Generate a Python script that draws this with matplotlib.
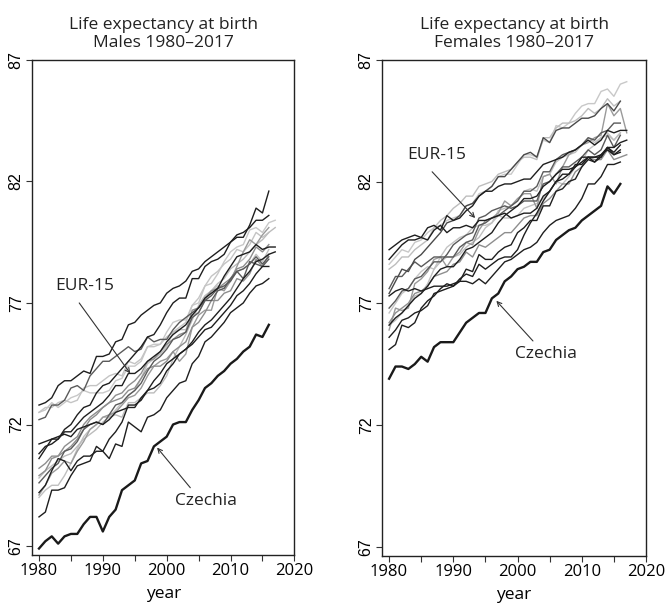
import matplotlib
matplotlib.use("Agg")
import matplotlib.pyplot as plt

plt.rcParams['font.family'] = ['Open Sans', 'DejaVu Sans']

START = 1980

# ---------------- Males ----------------
male_cz = [66.9, 67.2, 67.4, 67.1, 67.4, 67.5, 67.5, 67.9, 68.2, 68.2,
           67.6, 68.2, 68.5, 69.3, 69.5, 69.7, 70.4, 70.5, 71.1, 71.3,
           71.5, 72.0, 72.1, 72.1, 72.6, 73.0, 73.5, 73.7, 74.0, 74.2,
           74.5, 74.7, 75.0, 75.2, 75.7, 75.6, 76.1]

male_eur = {
    "Sweden": [72.8, 72.9, 73.1, 73.6, 73.8, 73.8, 74.0, 74.2, 74.1, 74.8,
               74.8, 74.9, 75.4, 75.5, 76.1, 76.2, 76.5, 76.7, 76.9, 77.0,
               77.4, 77.6, 77.7, 77.9, 78.3, 78.4, 78.7, 78.9, 79.1, 79.3,
               79.5, 79.8, 79.9, 80.1, 80.4, 80.4, 80.6],
    "Netherlands": [72.5, 72.7, 72.7, 72.9, 73.0, 72.9, 73.0, 73.5, 73.6, 73.6,
                    73.8, 74.0, 74.1, 74.0, 74.6, 74.5, 74.7, 75.2, 75.2, 75.3,
                    75.6, 75.8, 76.0, 76.2, 76.9, 77.2, 77.7, 78.1, 78.3, 78.6,
                    78.8, 79.2, 79.1, 79.4, 79.9, 79.7, 79.9],
    "Greece": [72.2, 72.3, 72.8, 72.8, 73.0, 73.5, 73.6, 73.4, 74.0, 74.3,
               74.6, 74.6, 74.8, 75.0, 75.2, 75.0, 75.1, 75.6, 75.4, 75.5,
               75.5, 75.9, 76.2, 76.4, 76.6, 76.8, 77.1, 77.1, 77.5, 77.6,
               78.0, 78.3, 78.0, 78.7, 78.6, 78.5, 78.8],
    "Spain": [72.5, 72.6, 72.9, 72.7, 72.9, 73.1, 73.2, 73.4, 73.3, 73.3,
              73.3, 73.4, 73.8, 73.9, 74.4, 74.4, 74.6, 75.2, 75.3, 75.3,
              75.8, 76.2, 76.3, 76.3, 76.9, 77.0, 77.7, 77.8, 78.2, 78.7,
              79.1, 79.3, 79.4, 80.0, 80.1, 79.9, 80.3, 80.4],
    "Italy": [70.6, 71.0, 71.4, 71.4, 71.8, 72.0, 72.4, 72.7, 72.8, 73.3,
              73.6, 73.7, 74.0, 74.3, 74.6, 74.9, 75.2, 75.6, 75.7, 76.1,
              76.6, 77.0, 77.2, 77.2, 78.0, 78.0, 78.5, 78.7, 78.8, 79.0,
              79.5, 79.7, 79.7, 80.2, 80.9, 80.7, 81.6],
    "France": [70.2, 70.4, 70.7, 70.7, 71.1, 71.3, 71.5, 72.0, 72.3, 72.5,
               72.7, 72.9, 73.2, 73.3, 73.6, 73.8, 74.1, 74.6, 74.7, 75.0,
               75.3, 75.5, 75.7, 75.8, 76.7, 76.8, 77.2, 77.5, 77.6, 77.8,
               78.0, 78.4, 78.5, 78.8, 79.3, 79.1, 79.4],
    "UK": [70.8, 71.1, 71.2, 71.4, 71.7, 71.7, 72.0, 72.3, 72.5, 72.7,
           72.9, 73.2, 73.6, 73.6, 74.1, 74.1, 74.3, 74.6, 74.8, 75.0,
           75.4, 75.7, 75.9, 76.1, 76.5, 76.8, 77.2, 77.4, 77.6, 78.1,
           78.5, 78.9, 79.0, 79.1, 79.4, 79.2, 79.3, 79.3],
    "Germany": [69.6, 69.9, 70.2, 70.4, 70.9, 71.0, 71.3, 71.8, 72.0, 72.1,
                72.0, 72.4, 72.8, 72.9, 73.2, 73.4, 73.7, 74.2, 74.6, 74.8,
                75.1, 75.5, 75.6, 75.8, 76.4, 76.6, 77.1, 77.3, 77.6, 77.7,
                77.9, 78.3, 78.4, 78.6, 78.9, 78.6, 78.9],
    "Austria": [69.0, 69.3, 69.5, 69.5, 69.9, 70.4, 71.0, 71.5, 71.8, 72.0,
                72.3, 72.3, 72.6, 72.9, 73.2, 73.4, 73.9, 74.5, 74.7, 74.9,
                75.2, 75.8, 75.9, 75.9, 76.5, 76.6, 77.1, 77.5, 77.7, 77.6,
                77.9, 78.3, 78.4, 78.6, 79.0, 78.7, 79.2],
    "Belgium": [69.9, 70.1, 70.6, 70.7, 70.9, 71.1, 71.4, 71.8, 72.2, 72.4,
                72.7, 72.9, 73.0, 73.1, 73.4, 73.5, 73.9, 74.3, 74.4, 74.4,
                74.6, 75.0, 75.2, 75.4, 76.0, 76.2, 76.6, 77.1, 77.1, 77.4,
                77.5, 78.0, 77.9, 78.2, 78.8, 78.5, 79.0],
    "Denmark": [71.2, 71.3, 71.4, 71.5, 71.6, 71.5, 71.8, 71.9, 72.0, 72.1,
                72.0, 72.2, 72.5, 72.6, 72.7, 72.7, 73.1, 73.4, 73.8, 74.1,
                74.5, 74.7, 74.9, 75.1, 75.4, 75.8, 76.1, 76.3, 76.6, 76.9,
                77.2, 77.6, 78.0, 78.3, 78.7, 78.8, 79.0, 79.1],
    "Finland": [69.2, 69.5, 70.1, 70.6, 70.5, 70.1, 70.5, 70.7, 70.7, 70.9,
                70.9, 71.4, 71.7, 72.1, 72.8, 72.8, 73.0, 73.4, 73.5, 73.7,
                74.2, 74.5, 74.9, 75.1, 75.3, 75.6, 75.9, 76.0, 76.3, 76.6,
                76.9, 77.3, 77.5, 77.8, 78.2, 78.5, 78.5],
    "Portugal": [68.2, 68.4, 69.3, 69.3, 69.4, 69.9, 70.3, 70.4, 70.5, 71.1,
                 70.9, 70.6, 71.2, 71.1, 72.1, 71.9, 71.7, 72.3, 72.4, 72.6,
                 73.1, 73.4, 73.7, 73.8, 74.5, 74.8, 75.4, 75.6, 75.9, 76.2,
                 76.6, 76.8, 77.0, 77.4, 77.7, 77.8, 78.0],
    "Ireland": [69.8, 70.1, 70.3, 70.5, 70.7, 70.8, 71.1, 71.4, 71.6, 71.8,
                72.1, 72.3, 72.4, 72.3, 72.9, 72.9, 73.1, 73.3, 73.3, 73.6,
                74.0, 74.7, 75.2, 75.7, 76.3, 76.9, 77.3, 77.5, 77.8, 78.0,
                78.4, 78.6, 78.8, 79.1, 79.4, 79.6, 79.9, 80.1],
    "Luxembourg": [69.1, 69.5, 70.0, 70.2, 70.5, 70.4, 70.9, 71.3, 71.8, 72.0,
                   72.3, 72.4, 72.5, 72.8, 73.1, 73.2, 73.5, 74.0, 74.4, 74.6,
                   74.7, 75.0, 74.6, 74.9, 76.0, 76.5, 76.7, 76.7, 77.6, 77.5,
                   77.9, 78.5, 79.1, 79.6, 79.4, 79.8, 80.1],
}

# ---------------- Females ----------------
female_cz = [73.9, 74.4, 74.4, 74.3, 74.5, 74.8, 74.6, 75.2, 75.4, 75.4,
             75.4, 75.8, 76.2, 76.4, 76.6, 76.6, 77.2, 77.4, 77.9, 78.1,
             78.4, 78.5, 78.7, 78.7, 79.1, 79.2, 79.6, 79.8, 80.0, 80.1,
             80.4, 80.6, 80.8, 81.0, 81.8, 81.5, 81.9]

female_eur = {
    "Spain": [78.6, 78.9, 79.2, 79.1, 79.5, 79.6, 79.9, 80.1, 80.2, 80.4,
              80.5, 80.6, 81.0, 81.1, 81.5, 81.6, 81.8, 82.2, 82.3, 82.3,
              82.7, 83.1, 83.1, 83.0, 83.7, 83.6, 84.3, 84.2, 84.4, 84.8,
              85.1, 85.2, 85.2, 85.7, 85.8, 85.5, 86.0, 86.1],
    "France": [78.4, 78.6, 78.9, 78.9, 79.2, 79.4, 79.6, 80.1, 80.4, 80.6,
               80.9, 81.1, 81.4, 81.4, 81.8, 81.9, 82.0, 82.3, 82.4, 82.5,
               82.8, 83.0, 83.0, 82.9, 83.8, 83.8, 84.2, 84.4, 84.4, 84.5,
               84.7, 85.0, 84.8, 85.0, 85.4, 85.1, 85.3],
    "Italy": [77.4, 77.9, 78.4, 78.3, 78.8, 79.0, 79.3, 79.6, 79.9, 80.3,
              80.4, 80.6, 81.0, 81.1, 81.4, 81.6, 81.8, 82.2, 82.2, 82.5,
              82.8, 83.1, 83.2, 83.0, 83.8, 83.6, 84.1, 84.2, 84.2, 84.4,
              84.6, 84.6, 84.7, 85.0, 85.2, 84.9, 85.3],
    "Netherlands": [79.2, 79.4, 79.6, 79.7, 79.8, 79.7, 79.6, 80.0, 80.2, 79.9,
                    80.1, 80.1, 80.2, 80.1, 80.4, 80.4, 80.5, 80.6, 80.7, 80.5,
                    80.6, 80.7, 80.7, 80.9, 81.4, 81.6, 82.0, 82.3, 82.3, 82.7,
                    82.7, 83.0, 82.8, 83.1, 83.3, 83.1, 83.2],
    "Sweden": [78.8, 79.1, 79.4, 79.6, 79.6, 79.7, 80.1, 80.2, 80.0, 80.6,
               80.4, 80.5, 80.8, 81.0, 81.4, 81.6, 81.6, 81.8, 81.9, 81.9,
               82.0, 82.1, 82.1, 82.4, 82.7, 82.8, 82.9, 83.0, 83.2, 83.3,
               83.5, 83.7, 83.5, 83.7, 84.1, 84.0, 84.1, 84.1],
    "Greece": [76.6, 77.0, 77.4, 77.6, 78.0, 78.3, 78.5, 78.4, 78.9, 79.3,
               79.5, 79.7, 79.8, 80.1, 80.2, 80.2, 80.3, 80.6, 80.5, 80.5,
               80.6, 80.9, 81.0, 81.1, 81.3, 81.6, 82.0, 81.9, 82.2, 82.6,
               82.8, 83.3, 83.5, 83.8, 83.9, 83.7, 84.0],
    "Denmark": [77.3, 77.5, 77.6, 77.5, 77.6, 77.5, 77.6, 77.7, 77.7, 77.7,
                77.8, 77.9, 77.9, 77.8, 78.0, 77.8, 78.1, 78.4, 78.7, 78.8,
                79.0, 79.2, 79.3, 79.5, 79.9, 80.2, 80.4, 80.5, 80.6, 80.9,
                81.3, 81.9, 81.9, 82.2, 82.7, 82.7, 82.8],
    "Finland": [77.6, 78.1, 78.1, 78.4, 78.7, 78.5, 78.7, 78.9, 78.9, 78.9,
                78.9, 79.3, 79.5, 79.6, 80.2, 80.3, 80.5, 80.6, 80.8, 81.0,
                81.2, 81.6, 81.6, 81.8, 82.4, 82.4, 82.9, 83.1, 83.2, 83.3,
                83.5, 83.8, 83.7, 84.0, 84.1, 84.4, 84.4],
    "UK": [76.2, 76.6, 76.8, 77.0, 77.4, 77.5, 77.7, 78.1, 78.2, 78.3,
           78.6, 78.7, 79.1, 78.9, 79.4, 79.3, 79.5, 79.7, 79.9, 79.9,
           80.2, 80.5, 80.6, 80.6, 81.1, 81.3, 81.6, 81.9, 81.9, 82.4,
           82.6, 83.0, 82.9, 82.9, 83.3, 82.9, 83.0, 83.1],
    "Belgium": [76.8, 77.1, 77.5, 77.6, 78.0, 78.1, 78.4, 78.7, 78.7, 79.0,
                79.4, 79.6, 79.8, 79.9, 80.5, 80.6, 80.8, 80.9, 81.0, 80.9,
                81.0, 81.2, 81.2, 81.2, 81.9, 82.0, 82.3, 82.6, 82.6, 82.8,
                83.0, 83.3, 83.1, 83.3, 83.9, 83.4, 83.9],
    "Germany": [76.1, 76.4, 76.6, 76.9, 77.2, 77.4, 77.7, 78.1, 78.4, 78.5,
                78.5, 78.8, 79.2, 79.3, 79.5, 79.7, 79.9, 80.3, 80.6, 80.8,
                81.0, 81.3, 81.3, 81.4, 81.8, 82.0, 82.3, 82.5, 82.5, 82.6,
                82.8, 83.0, 83.0, 83.0, 83.4, 83.1, 83.3],
    "Austria": [76.1, 76.3, 76.6, 76.9, 77.3, 77.4, 77.8, 78.4, 78.7, 78.9,
                78.9, 79.0, 79.3, 79.5, 79.7, 80.1, 80.3, 80.8, 80.9, 81.0,
                81.2, 81.6, 81.7, 81.6, 82.2, 82.3, 82.8, 83.0, 83.1, 83.2,
                83.5, 83.8, 83.6, 83.8, 84.0, 83.7, 84.0],
    "Luxembourg": [75.9, 76.8, 76.7, 76.8, 77.8, 78.0, 78.3, 78.8, 78.9, 78.5,
                   78.9, 79.1, 79.5, 79.4, 80.0, 80.4, 80.5, 80.7, 81.2, 81.0,
                   81.3, 81.5, 81.5, 80.9, 82.2, 82.3, 81.9, 82.6, 83.1, 83.3,
                   83.5, 83.6, 83.8, 83.9, 85.2, 84.7, 85.0, 84.0],
    "Ireland": [75.6, 75.9, 76.3, 76.4, 76.6, 76.7, 76.9, 77.4, 77.5, 77.6,
                77.7, 78.0, 78.2, 78.1, 78.6, 78.4, 78.6, 78.8, 78.9, 78.9,
                79.2, 79.8, 80.3, 80.7, 81.2, 81.6, 82.0, 82.1, 82.3, 82.6,
                83.0, 83.0, 83.0, 83.1, 83.4, 83.4, 83.6, 83.7],
    "Portugal": [75.1, 75.3, 76.1, 76.0, 76.2, 76.8, 77.1, 77.3, 77.6, 77.8,
                 77.7, 77.9, 78.4, 78.3, 79.0, 78.8, 78.8, 79.1, 79.3, 79.4,
                 79.9, 80.1, 80.4, 80.4, 81.0, 81.0, 81.6, 81.7, 82.0, 82.1,
                 82.6, 82.9, 82.8, 83.0, 83.4, 83.2, 83.5],
}

eur_colors = {
    "Sweden": "#1e1e1e", "Netherlands": "#c4c4c4", "Greece": "#5a5a5a",
    "Spain": "#c8c8c8", "Italy": "#1e1e1e", "France": "#8e8e8e",
    "UK": "#1e1e1e", "Germany": "#5a5a5a", "Austria": "#c0c0c0",
    "Belgium": "#8e8e8e", "Denmark": "#1e1e1e", "Finland": "#1e1e1e",
    "Portugal": "#1e1e1e", "Ireland": "#bcbcbc", "Luxembourg": "#9a9a9a",
}
female_colors = dict(eur_colors)
female_colors.update({"Netherlands": "#1e1e1e", "Spain": "#c8c8c8",
                      "France": "#bdbdbd", "Italy": "#4a4a4a",
                      "Greece": "#c4c4c4", "Finland": "#5a5a5a",
                      "Belgium": "#5a5a5a", "Germany": "#1e1e1e",
                      "UK": "#8e8e8e", "Ireland": "#1e1e1e"})

fig = plt.figure(figsize=(6.66, 6.04), dpi=100)
ax1 = fig.add_axes([0.048, 0.081, 0.394, 0.820])
ax2 = fig.add_axes([0.5736, 0.080, 0.3964, 0.821])

TICKFONT = ['Liberation Sans', 'DejaVu Sans']


def years(vals):
    return list(range(START, START + len(vals)))


def draw(ax, eur, cz, colors, title):
    # lighter lines underneath, darker on top
    order = sorted(eur.keys(), key=lambda k: -int(colors[k][1:3], 16))
    for name in order:
        v = eur[name]
        ax.plot(years(v), v, color=colors[name], lw=1.0, zorder=2)
    ax.plot(years(cz), cz, color="#1a1a1a", lw=1.7, zorder=3)
    ax.set_xlim(1978.9, 2020)
    ax.set_ylim(66.63, 87)
    ax.set_xticks(range(1980, 2021, 5))
    ax.set_xticklabels([str(y) if y % 10 == 0 else "" for y in range(1980, 2021, 5)],
                       fontsize=12)
    ax.set_yticks([67, 72, 77, 82, 87])
    ax.set_yticklabels(["67", "72", "77", "82", "87"], rotation=90,
                       va="center", fontsize=11.5, family=TICKFONT)
    ax.tick_params(direction="out", length=4, width=0.8, color="#333333", pad=2)
    for s in ax.spines.values():
        s.set_linewidth(1.0)
        s.set_color("#222222")
    ax.set_xlabel("year", fontsize=12.5, labelpad=5)
    ax.set_title(title, fontsize=12.5, pad=9, linespacing=1.2, color="#222222")


draw(ax1, male_eur, male_cz, eur_colors, "Life expectancy at birth\nMales 1980–2017")
draw(ax2, female_eur, female_cz, female_colors, "Life expectancy at birth\nFemales 1980–2017")

arrow = dict(arrowstyle="->", lw=0.8, color="#333333", shrinkA=0, shrinkB=0,
             mutation_scale=8)

ax1.text(1982.5, 77.7, "EUR-15", fontsize=12.5, ha="left", va="center", color="#222222")
ax1.annotate("", xy=(1994.3, 74.1), xytext=(1986.3, 77.0), arrowprops=arrow)
ax1.text(2006.2, 68.86, "Czechia", fontsize=12.5, ha="center", va="center", color="#222222")
ax1.annotate("", xy=(1998.5, 71.05), xytext=(2003.7, 69.4), arrowprops=arrow)

ax2.text(1982.9, 83.1, "EUR-15", fontsize=12.5, ha="left", va="center", color="#222222")
ax2.annotate("", xy=(1993.4, 80.5), xytext=(1986.7, 82.4), arrowprops=arrow)
ax2.text(2004.4, 74.9, "Czechia", fontsize=12.5, ha="center", va="center", color="#222222")
ax2.annotate("", xy=(1996.7, 77.1), xytext=(2002.4, 75.45), arrowprops=arrow)

fig.savefig("out.png", dpi=100)
